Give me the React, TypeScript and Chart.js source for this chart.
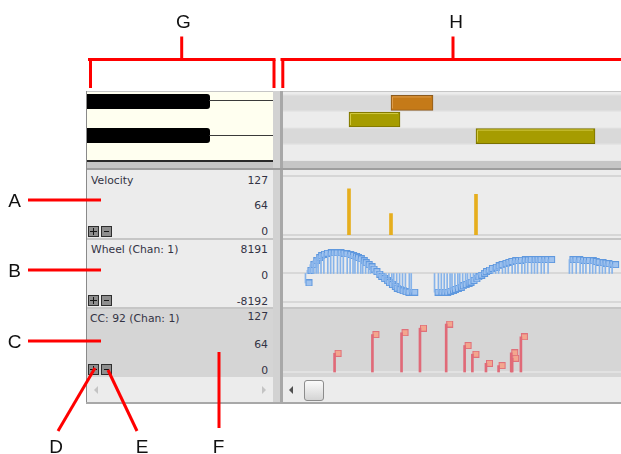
import React, { useEffect, useRef } from "react";
import { Chart, registerables } from "chart.js";

Chart.register(...registerables);

// ---------------- data ----------------
const visibleTicks = [0, 3380];
const pitchWindow = [59.5, 63.66];
const notePitches = [63, 62, 61];
const noteStarts = [1080, 660, 1930];
const noteEnds = [1500, 1170, 3120];
const noteVelocities = [46, 99, 87];

const velocityRange = [0, 127];
const wheelRange = [-8192, 8191];
const ccRange = [0, 127];

const wheelTimes = [
  180, 200, 230, 260, 290, 310, 340, 370, 410, 440, 470, 510, 540, 570, 610, 640, 670, 690, 720, 750,
  770, 800, 830, 850, 880, 910, 930, 960, 990, 1010, 1040, 1070, 1090, 1120, 1150, 1180, 1210, 1250, 1270,
  1510, 1550, 1580, 1610, 1640, 1670, 1690, 1720, 1750, 1770, 1800, 1830, 1850, 1880, 1910, 1930, 1960,
  1990, 2010, 2040, 2070, 2110, 2140, 2170, 2210, 2240, 2270, 2310, 2340, 2370, 2410, 2440, 2470, 2510,
  2540, 2570, 2610, 2640, 2680,
  2900, 2930, 2970, 3010, 3040, 3070, 3110, 3140, 3170, 3210, 3240, 3270, 3310, 3340,
];
const wheelValues = [
  -2730, 910, 2550, 3640, 4550, 5100, 5550, 5820, 5920, 5920, 5920, 5920, 5820, 5640, 5460, 5190, 4910,
  4550, 4190, 3640, 3090, 2550, 1910, 1270, 550, -180, -820, -1460, -2090, -2640, -3190, -3730, -4190,
  -4640, -5010, -5280, -5370, -5370, -5370,
  -5370, -5370, -5370, -5370, -5100, -4820, -4550, -4280, -3910, -3550, -3190, -2820, -2460, -2000,
  -1550, -1000, -460, 90, 550, 1000, 1460, 1820, 2180, 2550, 2910, 3190, 3460, 3640, 3730, 3820, 3910,
  3910, 4000, 4000, 4000, 4000, 4000, 4000, 4000,
  4000, 4000, 3910, 3820, 3730, 3730, 3640, 3460, 3280, 3090, 3000, 2820, 2730, 2550,
];

const ccTimes = [480, 870, 1170, 1360, 1630, 1820, 1900, 2040, 2170, 2300, 2310, 2400];
const ccValues = [41, 82, 86, 96, 105, 58, 39, 19, 14, 42, 30, 77];

const paneTitles = ["Velocity", "Wheel (Chan: 1)", "CC: 92 (Chan: 1)"];
const paneScaleLabels = [
  ["127", "64", "0"],
  ["8191", "0", "-8192"],
  ["127", "64", "0"],
];
const calloutLetters = ["A", "B", "C", "D", "E", "F", "G", "H"];

// ---------------- styles / layout ----------------
const noteFill = ["#C57A18", "#A69C00", "#A69C00"];
const noteBorder = ["#8A5A1F", "#7A7100", "#7A7100"];
const noteHighlight = ["#DD9C4A", "#D2CA44", "#D2CA44"];

const calloutPos: Record<string, [number, number]> = {
  A: [14.5, 200], B: [14.5, 270], C: [14.5, 341],
  D: [56, 446], E: [142, 446], F: [218.5, 446],
  G: [183.3, 21.7], H: [456, 21.7],
};

const paneLayout = [
  { top: 170, height: 68, bg: "#ececec", titleY: 180, labelYs: [180, 205.7, 231.7], btnY: 226 },
  { top: 240, height: 67, bg: "#ececec", titleY: 249.3, labelYs: [249.3, 275, 301.7], btnY: 295 },
  { top: 309, height: 68, bg: "#d5d5d5", titleY: 318.3, labelYs: [316, 344.3, 370], btnY: 364 },
];

const RX = 283;
const RW = 338;

function box(left: number, top: number, width: number, height: number, background: string, extra: any = {}) {
  return { position: "absolute" as const, left, top, width, height, background, ...extra };
}

function makeFlag(fill: string, stroke: string, size: number) {
  const c = document.createElement("canvas");
  c.width = size * 2 + 2;
  c.height = size;
  const g = c.getContext("2d")!;
  g.fillStyle = fill;
  g.fillRect(size + 1, 0, size, size);
  g.strokeStyle = stroke;
  g.lineWidth = 1;
  g.strokeRect(size + 1.5, 0.5, size - 1, size - 1);
  return c;
}

function baseOptions(yMin: number, yMax: number, padTop: number, padBottom: number, indexY = false) {
  return {
    animation: false as const,
    responsive: false,
    events: [] as any[],
    indexAxis: (indexY ? "y" : "x") as any,
    layout: { padding: { top: padTop, bottom: padBottom, left: 0, right: 0 } },
    plugins: { legend: { display: false }, tooltip: { enabled: false } },
    scales: {
      x: { type: "linear" as const, min: visibleTicks[0], max: visibleTicks[1], display: false, offset: false },
      y: { type: "linear" as const, min: yMin, max: yMax, display: false, offset: false },
    },
  };
}

function paneBg(color: string, guides: number[], guideColor: string, guideWidth = 2) {
  return {
    id: "paneBg",
    beforeDraw(chart: any) {
      const { ctx, width, height, scales } = chart;
      ctx.save();
      ctx.fillStyle = color;
      ctx.fillRect(0, 0, width, height);
      ctx.strokeStyle = guideColor;
      ctx.lineWidth = guideWidth;
      guides.forEach((v) => {
        const py = Math.round(scales.y.getPixelForValue(v));
        ctx.beginPath();
        ctx.moveTo(0, py);
        ctx.lineTo(width, py);
        ctx.stroke();
      });
      ctx.restore();
    },
  };
}

function notesConfig(): any {
  const rows = {
    id: "rows",
    beforeDraw(chart: any) {
      const { ctx, width, height, scales } = chart;
      ctx.save();
      ctx.fillStyle = "#ececec";
      ctx.fillRect(0, 0, width, height);
      const black = [1, 3, 6, 8, 10];
      for (let p = Math.floor(pitchWindow[0]); p <= Math.ceil(pitchWindow[1]); p++) {
        const t = scales.y.getPixelForValue(p + 0.5);
        const b = scales.y.getPixelForValue(p - 0.5);
        ctx.fillStyle = black.includes(p % 12) ? "#d9d9d9" : "#ececec";
        ctx.fillRect(0, t, width, b - t);
        ctx.fillStyle = "#e4e4e4";
        ctx.fillRect(0, Math.round(b) - 0.5, width, 1);
      }
      ctx.restore();
    },
    afterDatasetsDraw(chart: any) {
      const ctx = chart.ctx;
      chart.getDatasetMeta(0).data.forEach((el: any, i: number) => {
        const { x, y, base, height } = el.getProps(["x", "y", "base", "height"], true);
        const l = Math.min(x, base);
        const r = Math.max(x, base);
        const t = y - height / 2;
        ctx.save();
        ctx.strokeStyle = noteHighlight[i];
        ctx.lineWidth = 1;
        ctx.beginPath();
        ctx.moveTo(l + 1.5, t + height - 2);
        ctx.lineTo(l + 1.5, t + 1.5);
        ctx.lineTo(r - 2, t + 1.5);
        ctx.stroke();
        ctx.restore();
      });
    },
  };
  return {
    type: "bar",
    data: {
      datasets: [
        {
          data: notePitches.map((p, i) => ({ y: p, x: [noteStarts[i], noteEnds[i]] })),
          backgroundColor: noteFill,
          borderColor: noteBorder,
          borderWidth: 1,
          borderSkipped: false,
          barThickness: 15,
        },
      ],
    },
    options: baseOptions(pitchWindow[0], pitchWindow[1], 0, 0, true),
    plugins: [rows],
  };
}

function velocityConfig(): any {
  return {
    type: "bar",
    data: {
      datasets: [
        {
          data: noteStarts.map((s, i) => ({ x: s, y: noteVelocities[i] })),
          backgroundColor: "#E6AE1E",
          borderWidth: 0,
          barThickness: 3,
        },
      ],
    },
    options: baseOptions(velocityRange[0], velocityRange[1], 5.7, 3),
    plugins: [paneBg("#ececec", [velocityRange[0], velocityRange[1]], "#d6d6d6")],
  };
}

function wheelConfig(): any {
  const flag = makeFlag("#9FC2EE", "#5F98DE", 7);
  return {
    type: "bar",
    data: {
      datasets: [
        {
          type: "bar",
          data: wheelTimes.map((t, i) => ({ x: t, y: wheelValues[i] })),
          backgroundColor: "#86B3EA",
          borderWidth: 0,
          barThickness: 1,
          clip: false,
        },
        {
          type: "scatter",
          data: wheelTimes.map((t, i) => ({ x: t, y: wheelValues[i] })),
          pointStyle: flag,
          pointRadius: 3,
          clip: false,
        },
      ],
    },
    options: baseOptions(wheelRange[0], wheelRange[1], 4.6, 3),
    plugins: [paneBg("#ececec", [0, wheelRange[0]], "#d2d2d2", 1.5)],
  };
}

function ccConfig(): any {
  const flag = makeFlag("#F3A68E", "#E0707A", 7);
  return {
    type: "bar",
    data: {
      datasets: [
        {
          type: "bar",
          data: ccTimes.map((t, i) => ({ x: t, y: ccValues[i] })),
          backgroundColor: "#E06A78",
          borderWidth: 0,
          barThickness: 2,
          clip: false,
        },
        {
          type: "scatter",
          data: ccTimes.map((t, i) => ({ x: t, y: ccValues[i] })),
          pointStyle: flag,
          pointRadius: 3,
          clip: false,
        },
      ],
    },
    options: baseOptions(ccRange[0], ccRange[1], 4, 4.5),
    plugins: [paneBg("#d6d6d6", [ccRange[0]], "#e2e2e2")],
  };
}

function ChartCanvas({ x, y, w, h, make }: { x: number; y: number; w: number; h: number; make: () => any }) {
  const ref = useRef<HTMLCanvasElement>(null);
  useEffect(() => {
    const chart = new Chart(ref.current as HTMLCanvasElement, make());
    return () => chart.destroy();
  }, []);
  return (
    <canvas
      ref={ref}
      width={w}
      height={h}
      style={{ position: "absolute", left: x, top: y, width: w, height: h, display: "block" }}
    />
  );
}

function PaneButton({ x, y, plus }: { x: number; y: number; plus: boolean }) {
  return (
    <div
      style={{
        position: "absolute", left: x, top: y, width: 11, height: 11, boxSizing: "border-box",
        border: "1px solid #2e2e2e", background: "#8e8e8e",
      }}
    >
      <div style={box(plus ? 1 : 2, 4, plus ? 7 : 5, 1, "#151515")} />
      {plus && <div style={box(4, 1, 1, 7, "#151515")} />}
    </div>
  );
}

const uiFont = '"DejaVu Sans", sans-serif';

function UiText({ x, cy, text, right }: { x: number; cy: number; text: string; right?: boolean }) {
  const style: any = {
    position: "absolute", top: cy - 6.3, fontFamily: uiFont, fontSize: 10.8, lineHeight: "13px",
    color: "#333344", whiteSpace: "nowrap",
  };
  if (right) style.right = 621 - x;
  else style.left = x;
  return <div style={style}>{text}</div>;
}

function Callout({ letter }: { letter: string }) {
  const [cx, cy] = calloutPos[letter];
  return (
    <div
      style={{
        position: "absolute", left: cx - 20, width: 40, top: cy - 9.3, textAlign: "center",
        fontFamily: '"Liberation Sans", Arial, sans-serif', fontSize: 19, lineHeight: "19px", color: "#111",
      }}
    >
      {letter}
    </div>
  );
}

function Triangle({ x, y, dir, color }: { x: number; y: number; dir: "l" | "r"; color: string }) {
  const s: any = {
    position: "absolute", left: x, top: y, width: 0, height: 0,
    borderTop: "4px solid transparent", borderBottom: "4px solid transparent",
  };
  if (dir === "l") s.borderRight = `4px solid ${color}`;
  else s.borderLeft = `4px solid ${color}`;
  return <div style={s} />;
}

export default function App() {
  const red = "#ff0000";
  return (
    <div
      style={{
        position: "fixed", left: 0, top: 0, width: 621, height: 454, background: "#ffffff", overflow: "hidden",
      }}
    >
      {/* window frame */}
      <div style={box(86, 91, 535, 313, "#c6c6c6")} />
      <div style={box(86, 91, 1, 313, "#8a8a8a")} />
      {/* vertical splitter */}
      <div style={box(273, 91, 7, 311, "#d2d2d2")} />
      <div style={box(280, 91, 3, 311, "#a8a8a8")} />
      {/* horizontal splitter line */}
      <div style={box(87, 168, 534, 2, "#9e9e9e")} />

      {/* piano keyboard */}
      <div style={box(87, 92, 186, 68, "#fffff0")} />
      <div style={box(87, 94.3, 123, 15, "#000", { borderRadius: "0 3px 3px 0" })} />
      <div style={box(87, 127.7, 123, 15.5, "#000", { borderRadius: "0 3px 3px 0" })} />
      <div style={box(209, 100.2, 64, 1, "#3a3a3a")} />
      <div style={box(209, 134.5, 64, 1, "#3a3a3a")} />
      <div style={box(87, 160, 186, 1.5, "#2a2a2a")} />

      {/* left panes */}
      {paneLayout.map((p, i) => (
        <React.Fragment key={i}>
          <div style={box(87, p.top, 186, p.height, p.bg)} />
          <UiText x={i === 2 ? 90 : 91} cy={p.titleY} text={paneTitles[i]} />
          {paneScaleLabels[i].map((lab, j) => (
            <UiText key={j} x={268} cy={p.labelYs[j]} text={lab} right />
          ))}
          <PaneButton x={88} y={p.btnY} plus={true} />
          <PaneButton x={101} y={p.btnY} plus={false} />
        </React.Fragment>
      ))}

      {/* scroll bars */}
      <div style={box(87, 377, 186, 25, "#ececec")} />
      <div style={box(RX, 377, RW, 25, "#ececec")} />
      <div style={box(86, 402, 535, 2, "#a8a8a8")} />
      <Triangle x={93.5} y={386} dir="l" color="#c4c4c4" />
      <Triangle x={262} y={386} dir="r" color="#c4c4c4" />
      <Triangle x={288.5} y={386} dir="l" color="#505050" />
      <div
        style={box(304, 379.5, 19.5, 21, "linear-gradient(#fbfbfb, #d4d4d4)", {
          boxSizing: "border-box", border: "1px solid #8c8c8c", borderRadius: 3,
        })}
      />

      {/* charts */}
      <ChartCanvas x={RX} y={92} w={RW} h={69} make={notesConfig} />
      <ChartCanvas x={RX} y={paneLayout[0].top} w={RW} h={paneLayout[0].height} make={velocityConfig} />
      <ChartCanvas x={RX} y={paneLayout[1].top} w={RW} h={paneLayout[1].height} make={wheelConfig} />
      <ChartCanvas x={RX} y={paneLayout[2].top} w={RW} h={paneLayout[2].height} make={ccConfig} />

      {/* red callouts */}
      <svg width={621} height={454} style={{ position: "absolute", left: 0, top: 0 }}>
        <g stroke={red} strokeWidth={3} fill="none">
          <line x1={88} y1={59.5} x2={275.5} y2={59.5} />
          <line x1={181.7} y1={36.5} x2={181.7} y2={59.5} />
          <line x1={90.5} y1={59.5} x2={90.5} y2={88} />
          <line x1={274} y1={59.5} x2={274} y2={88} />
          <line x1={280.5} y1={59.5} x2={621} y2={59.5} />
          <line x1={453} y1={36.5} x2={453} y2={59.5} />
          <line x1={282.8} y1={59.5} x2={282.8} y2={88} />
          <line x1={28} y1={200} x2={101} y2={200} />
          <line x1={28} y1={270} x2={101} y2={270} />
          <line x1={28} y1={341} x2={101} y2={341} />
          <line x1={58} y1={431} x2={95} y2={368} />
          <line x1={137} y1={431} x2={108} y2={370} />
          <line x1={219} y1={352} x2={219} y2={428} />
        </g>
      </svg>
      {calloutLetters.map((l) => (
        <Callout key={l} letter={l} />
      ))}
    </div>
  );
}
